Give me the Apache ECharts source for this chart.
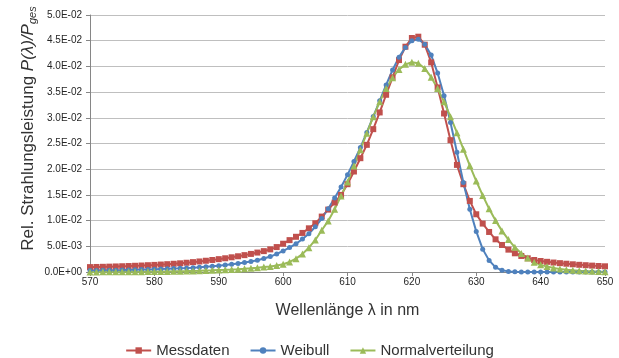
<!DOCTYPE html>
<html>
<head>
<meta charset="utf-8">
<script src="https://cdn.jsdelivr.net/npm/echarts@6/dist/echarts.min.js"></script>
<style>
  html, body { margin: 0; padding: 0; background: #fff; }
  #chart { width: 619px; height: 358px; }
</style>
</head>
<body>
<div id="chart"></div>
<script>
// Wellenlänge (nm)
const wavelengths = [
  570, 571, 572, 573, 574, 575, 576, 577, 578, 579,
  580, 581, 582, 583, 584, 585, 586, 587, 588, 589,
  590, 591, 592, 593, 594, 595, 596, 597, 598, 599,
  600, 601, 602, 603, 604, 605, 606, 607, 608, 609,
  610, 611, 612, 613, 614, 615, 616, 617, 618, 619,
  620, 621, 622, 623, 624, 625, 626, 627, 628, 629,
  630, 631, 632, 633, 634, 635, 636, 637, 638, 639,
  640, 641, 642, 643, 644, 645, 646, 647, 648, 649,
  650
];

const messdaten = [
  0.00095, 0.00098, 0.00101, 0.00104, 0.00108, 0.00112, 0.00116, 0.00121, 0.00126, 0.00132,
  0.00138, 0.00145, 0.00152, 0.00160, 0.00169, 0.00180, 0.00192, 0.00205, 0.00219, 0.00234,
  0.00250, 0.00267, 0.00286, 0.00306, 0.00328, 0.00352, 0.00378, 0.00406, 0.00440, 0.00485,
  0.00550, 0.00620, 0.00685, 0.00760, 0.00850, 0.00948, 0.01078, 0.01214, 0.01351, 0.01500,
  0.01708, 0.01955, 0.02214, 0.02474, 0.02779, 0.03104, 0.03448, 0.03786, 0.04123, 0.04383,
  0.04552, 0.04578, 0.04422, 0.04078, 0.03591, 0.03084, 0.02565, 0.02084, 0.01708, 0.01383,
  0.01123, 0.00942, 0.00779, 0.00636, 0.00526, 0.00435, 0.00364, 0.00312, 0.00266, 0.00234,
  0.00214, 0.00198, 0.00184, 0.00172, 0.00161, 0.00150, 0.00140, 0.00132, 0.00124, 0.00117,
  0.00111
];

const weibull = [
  0.00028, 0.00030, 0.00032, 0.00034, 0.00036, 0.00038, 0.00041, 0.00044, 0.00047, 0.00050,
  0.00054, 0.00058, 0.00062, 0.00067, 0.00072, 0.00078, 0.00085, 0.00093, 0.00102, 0.00112,
  0.00123, 0.00136, 0.00150, 0.00166, 0.00184, 0.00205, 0.00230, 0.00262, 0.00300, 0.00350,
  0.00410, 0.00475, 0.00550, 0.00640, 0.00745, 0.00880, 0.01040, 0.01230, 0.01440, 0.01655,
  0.01890, 0.02150, 0.02420, 0.02715, 0.03025, 0.03330, 0.03640, 0.03930, 0.04180, 0.04370,
  0.04500, 0.04530, 0.04430, 0.04220, 0.03870, 0.03430, 0.02910, 0.02330, 0.01740, 0.01220,
  0.00790, 0.00445, 0.00225, 0.00090, 0.00032, 0.00012, 0.00004, 0.00001, 0, 0,
  0, 0, 0, 0, 0, 0, 0, 0, 0, 0,
  0
];

const normalverteilung = [
  0.00002, 0.00002, 0.00003, 0.00003, 0.00004, 0.00004, 0.00005, 0.00006, 0.00007, 0.00008,
  0.00009, 0.00010, 0.00012, 0.00014, 0.00016, 0.00018, 0.00021, 0.00024, 0.00028, 0.00032,
  0.00037, 0.00042, 0.00048, 0.00055, 0.00063, 0.00072, 0.00083, 0.00095, 0.00108, 0.00125,
  0.00150, 0.00195, 0.00260, 0.00350, 0.00474, 0.00623, 0.00812, 0.00994, 0.01221, 0.01481,
  0.01750, 0.02060, 0.02380, 0.02700, 0.03020, 0.03310, 0.03570, 0.03780, 0.03940, 0.04040,
  0.04080, 0.04060, 0.03960, 0.03790, 0.03570, 0.03310, 0.03020, 0.02710, 0.02390, 0.02070,
  0.01770, 0.01490, 0.01230, 0.01000, 0.00800, 0.00630, 0.00480, 0.00360, 0.00270, 0.00190,
  0.00140, 0.00105, 0.00080, 0.00060, 0.00045, 0.00034, 0.00025, 0.00019, 0.00014, 0.00010,
  0.00007
];

const FONT = '"Liberation Sans", Arial, sans-serif';

function pairs(ys) {
  return wavelengths.map((x, i) => [x, ys[i]]);
}

// Excel-Format 0.0E+00
function sci(v) {
  const s = Number(v).toExponential(1);
  const [m, e] = s.split('e');
  const sign = e[0] === '-' ? '-' : '+';
  const exp = Math.abs(parseInt(e, 10)).toString().padStart(2, '0');
  return m + 'E' + sign + exp;
}

const chart = echarts.init(document.getElementById('chart'));

chart.setOption({
  animation: false,
  textStyle: { fontFamily: FONT },
  grid: { left: 90, right: 14, top: 15, bottom: 86 },
  legend: {
    data: ['Messdaten', 'Weibull', 'Normalverteilung'],
    left: 'center',
    top: 343,
    itemWidth: 25,
    itemHeight: 8,
    itemGap: 20,
    padding: 0,
    textStyle: { fontSize: 15, color: '#333', fontFamily: FONT }
  },
  xAxis: {
    type: 'value',
    min: 570,
    max: 650,
    interval: 10,
    name: 'Wellenlänge λ in nm',
    nameLocation: 'middle',
    nameGap: 31,
    nameMoveOverlap: false,
    nameTextStyle: { fontSize: 16, color: '#333', fontFamily: FONT },
    axisLine: { lineStyle: { color: '#868686', width: 1 } },
    axisTick: { show: true, length: 4, lineStyle: { color: '#868686' } },
    axisLabel: { fontSize: 10, color: '#262626', margin: 5, fontFamily: FONT },
    splitLine: { show: false }
  },
  yAxis: {
    type: 'value',
    min: 0,
    max: 0.05,
    interval: 0.005,
    name: '{a|Rel. Strahlungsleistung }{b|P(λ)/P}{c|ges}',
    nameLocation: 'middle',
    nameRotate: 90,
    nameGap: 52,
    nameMoveOverlap: false,
    nameTextStyle: {
      color: '#333',
      padding: [0, 0, 0, 30],
      rich: {
        a: { fontSize: 17, fontFamily: FONT, color: '#333', lineHeight: 19 },
        b: { fontSize: 17, fontFamily: FONT, fontStyle: 'italic', color: '#333', lineHeight: 19 },
        c: { fontSize: 11, fontFamily: FONT, fontStyle: 'italic', color: '#333', lineHeight: 6, verticalAlign: 'bottom' }
      }
    },
    axisLine: { show: true, lineStyle: { color: '#868686', width: 1 } },
    axisTick: { show: true, length: 4, lineStyle: { color: '#868686' } },
    axisLabel: { fontSize: 10, color: '#262626', margin: 8, fontFamily: FONT, formatter: sci },
    splitLine: { lineStyle: { color: '#BFBFBF', width: 1 } }
  },
  series: [
    {
      name: 'Messdaten',
      type: 'line',
      data: pairs(messdaten),
      symbol: 'rect',
      symbolSize: 6,
      showAllSymbol: true,
      lineStyle: { color: '#C0504D', width: 2 },
      itemStyle: { color: '#C0504D' }
    },
    {
      name: 'Weibull',
      type: 'line',
      data: pairs(weibull),
      symbol: 'circle',
      symbolSize: 5,
      showAllSymbol: true,
      lineStyle: { color: '#4F81BD', width: 2 },
      itemStyle: { color: '#4F81BD' }
    },
    {
      name: 'Normalverteilung',
      type: 'line',
      data: pairs(normalverteilung),
      symbol: 'triangle',
      symbolSize: 7,
      showAllSymbol: true,
      lineStyle: { color: '#9BBB59', width: 2 },
      itemStyle: { color: '#9BBB59' }
    }
  ]
});
</script>
</body>
</html>
